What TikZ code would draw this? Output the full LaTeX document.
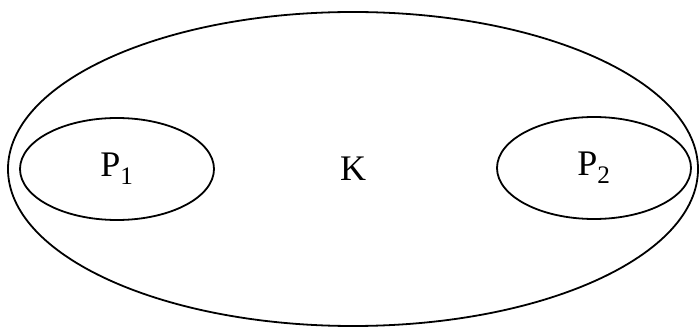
\documentclass[tikz,border=0pt]{standalone}
\usepackage{fontspec}
\setmainfont{Liberation Serif}
\usetikzlibrary{shapes.geometric,positioning}

\tikzset{oval/.style={draw,ellipse,line width=1.8pt,inner sep=0pt}}

\begin{document}
\begin{tikzpicture}[x=1pt,y=1pt,font=\fontsize{36}{42}\selectfont]
  \useasboundingbox (0,0) rectangle (700,332);
  \node[oval,minimum width=690,minimum height=314] (K) at (353,163) {K};
  \node[oval,minimum width=194,minimum height=102] (P1) at (117,163) {P\textsubscript{1}};
  \node[oval,minimum width=194,minimum height=102] (P2) at (594,164) {P\textsubscript{2}};
\end{tikzpicture}
\end{document}
